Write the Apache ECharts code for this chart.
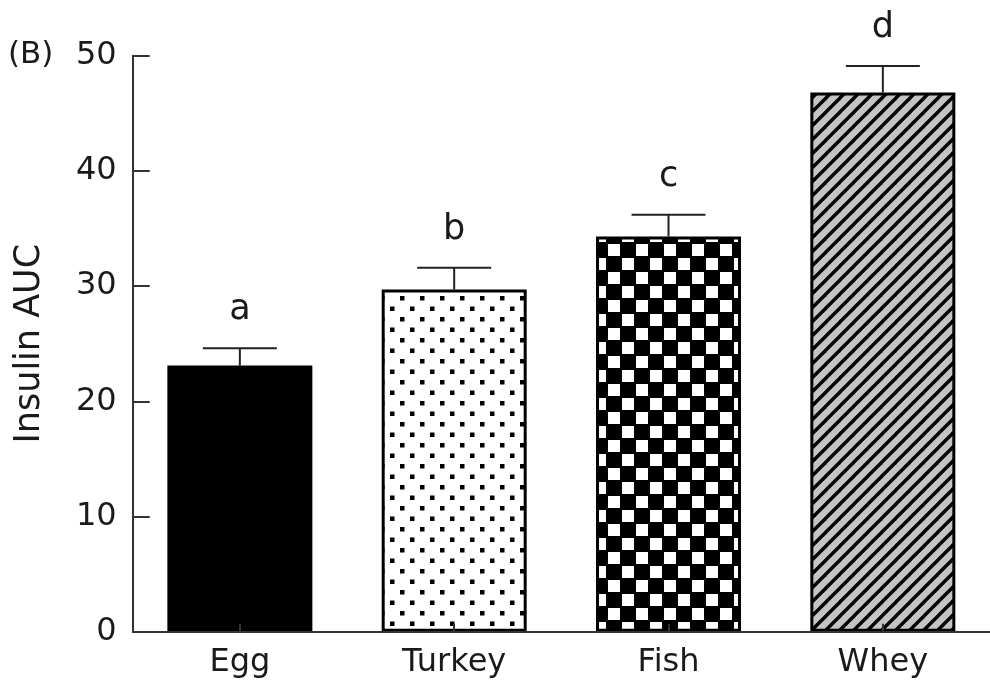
<!DOCTYPE html>
<html>
<head>
<meta charset="utf-8">
<script src="https://cdn.jsdelivr.net/npm/echarts@6/dist/echarts.min.js"></script>
<style>
html,body{margin:0;padding:0;background:#fff;}
#chart{width:990px;height:684px;}
</style>
</head>
<body>
<div id="chart"></div>
<script>
// ---- data ----
var categories = ['Egg', 'Turkey', 'Fish', 'Whey'];
var means = [23.1, 29.7, 34.3, 46.8];
var sem = [1.5, 1.9, 1.9, 2.3];
var letters = ['a', 'b', 'c', 'd'];
var yTicks = [0, 10, 20, 30, 40, 50];

var FONT = '"DejaVu Sans", Verdana, sans-serif';
var TXT = '#1a1a1a';

function makeCanvas(w, h, draw) {
  var c = document.createElement('canvas');
  c.width = w; c.height = h;
  draw(c.getContext('2d'));
  return c;
}
// dotted (Turkey)
var dots = makeCanvas(20, 21, function (g) {
  g.fillStyle = '#fff'; g.fillRect(0, 0, 20, 21);
  g.fillStyle = '#000';
  g.fillRect(0, 2, 4.5, 4.5);
  g.fillRect(10, 12.5, 4.5, 4.5);
});
// checker (Fish)
var checker = makeCanvas(28, 28, function (g) {
  g.fillStyle = '#000'; g.fillRect(0, 0, 28, 28);
  g.fillStyle = '#fff';
  g.fillRect(6, 6, 12, 12);
  g.fillRect(20, 20, 12, 12);
  g.fillRect(-8, 20, 12, 12);
  g.fillRect(20, -8, 12, 12);
  g.fillRect(-8, -8, 12, 12);
});
// hatch (Whey)
var P = 14;
var hatch = makeCanvas(P, P, function (g) {
  g.fillStyle = '#c4c4c4'; g.fillRect(0, 0, P, P);
  g.strokeStyle = '#000'; g.lineWidth = 3.4;
  for (var k = -1; k <= 1; k++) {
    g.beginPath();
    g.moveTo(k * P - 4, P + 4);
    g.lineTo(k * P + P + 4, -4);
    g.stroke();
  }
});

var fills = [
  '#000',
  { image: dots, repeat: 'repeat' },
  { image: checker, repeat: 'repeat' },
  { image: hatch, repeat: 'repeat' }
];

var barData = means.map(function (v, i) {
  return {
    value: v,
    itemStyle: { color: fills[i], borderColor: '#000', borderWidth: i === 0 ? 0 : 3 }
  };
});
var errData = means.map(function (v, i) { return [i, v, v + sem[i]]; });

var chart = echarts.init(document.getElementById('chart'));
chart.setOption({
  animation: false,
  backgroundColor: '#fff',
  grid: { left: 132.7, top: 55.7, width: 866, height: 576, containLabel: false },
  graphic: [{
    type: 'text', left: 8, top: 39,
    style: { text: '(B)', font: '31px ' + FONT, fill: TXT }
  }],
  xAxis: {
    type: 'category',
    data: categories,
    z: 10,
    axisLine: { lineStyle: { color: '#333', width: 2 } },
    axisTick: { show: true, inside: true, alignWithLabel: true, length: 8, lineStyle: { color: '#333', width: 2 } },
    axisLabel: { color: TXT, fontSize: 32, fontFamily: FONT, margin: 15 }
  },
  yAxis: {
    type: 'value',
    min: yTicks[0], max: yTicks[yTicks.length - 1], interval: 10,
    name: 'Insulin AUC',
    nameLocation: 'middle',
    nameGap: 85,
    nameTextStyle: { color: TXT, fontSize: 35, fontFamily: FONT },
    splitLine: { show: false },
    axisLine: { show: true, lineStyle: { color: '#333', width: 2 } },
    axisTick: { show: true, inside: true, length: 17, lineStyle: { color: '#333', width: 2 } },
    axisLabel: { color: TXT, fontSize: 32, fontFamily: FONT, margin: 16 }
  },
  series: [{
    type: 'bar',
    data: barData,
    barWidth: 145,
    z: 2
  }, {
    type: 'custom',
    data: errData,
    z: 5,
    renderItem: function (params, api) {
      var i = api.value(0);
      var top = api.coord([i, api.value(1)]);
      var up = api.coord([i, api.value(2)]);
      var hw = 37;
      var st = { stroke: '#222', lineWidth: 2 };
      return {
        type: 'group',
        children: [
          { type: 'line', shape: { x1: top[0], y1: top[1], x2: up[0], y2: up[1] }, style: st },
          { type: 'line', shape: { x1: up[0] - hw, y1: up[1], x2: up[0] + hw, y2: up[1] }, style: st },
          { type: 'text', x: up[0], y: up[1] - 38,
            style: { text: letters[params.dataIndex], font: '35px ' + FONT, fill: TXT, align: 'center', verticalAlign: 'middle' } }
        ]
      };
    }
  }]
});
</script>
</body>
</html>
